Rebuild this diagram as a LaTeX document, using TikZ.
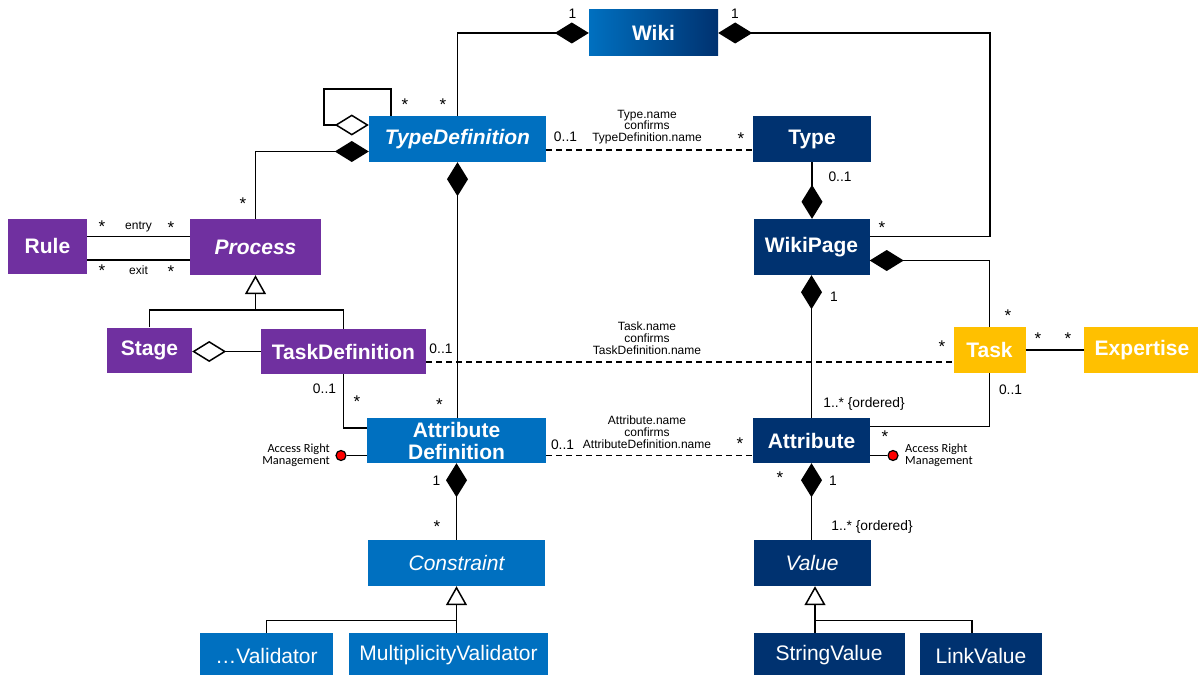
\documentclass[tikz,border=0pt]{standalone}
\usepackage{fontspec}
\setmainfont{Liberation Sans}
\newfontfamily\notefont{Carlito}
\usetikzlibrary{arrows.meta,calc}
\definecolor{umlblue}{RGB}{0,112,192}
\definecolor{umlnavy}{RGB}{0,50,112}
\definecolor{umlpurple}{RGB}{112,48,160}
\definecolor{umlgold}{RGB}{255,192,0}
\begin{document}
\begin{tikzpicture}[x=1pt,y=-1pt,
  cls/.style={inner sep=0pt, text=white, font=\fontsize{21}{22}\selectfont},
  sized/.style 2 args={minimum width=#1, minimum height=#2},
  bluebox/.style={cls, fill=umlblue},
  navybox/.style={cls, fill=umlnavy},
  purplebox/.style={cls, fill=umlpurple},
  goldbox/.style={cls, fill=umlgold},
  conn/.style={line width=1.5pt, line join=miter},
  comp/.style={conn, -{Diamond[length=34pt,width=21pt]}},
  aggr/.style={conn, -{Diamond[open,fill=white,length=34pt,width=21pt]}},
  gen/.style={conn, -{Triangle[open,fill=white,length=19pt,width=21pt]}},
  dep/.style={conn, dash pattern=on 6pt off 4pt},
  mult/.style={inner sep=0pt, font=\fontsize{13.8}{14}\selectfont},
  star/.style={inner sep=0pt, font=\fontsize{17}{17}\selectfont},
  rolelabel/.style={inner sep=0pt, font=\fontsize{12}{12}\selectfont},
  note/.style={inner sep=0pt, align=center, font=\fontsize{12}{12}\selectfont},
  access/.style={inner sep=0pt, font=\notefont\fontsize{12.4}{12}\selectfont},
  port/.style={circle, draw, line width=1.2pt, fill=red, minimum size=10pt, inner sep=0pt}
]
\useasboundingbox (0,0) rectangle (1198,674);

% ---------- classes ----------
\node[cls, sized={129}{46}, left color=umlblue, right color=umlnavy, font=\fontsize{21}{22}\selectfont\bfseries] (wiki) at (653.5,33) {Wiki};
\node[bluebox, sized={177}{46}, font=\fontsize{21}{22}\selectfont\bfseries\itshape] (typedef) at (457.5,139) {TypeDefinition};
\node[navybox, sized={118}{46}, font=\fontsize{21}{22}\selectfont\bfseries] (type) at (812,139) {Type};
\node[navybox, sized={116}{56}, font=\fontsize{21}{22}\selectfont\bfseries] (wikipage) at (811.5,247) {WikiPage};
\node[purplebox, sized={79}{55}, font=\fontsize{21}{22}\selectfont\bfseries] (rule) at (47.5,246) {Rule};
\node[purplebox, sized={131}{56}, font=\fontsize{21}{22}\selectfont\bfseries\itshape] (process) at (255.5,247) {Process};
\node[purplebox, sized={85}{45}, font=\fontsize{21}{22}\selectfont\bfseries] (stage) at (149.5,350) {Stage};
\node[purplebox, sized={165}{45}, font=\fontsize{21}{22}\selectfont\bfseries] (taskdef) at (343.5,351.5) {TaskDefinition};
\node[goldbox, sized={72}{46}, font=\fontsize{21}{22}\selectfont\bfseries] (task) at (989.5,350) {Task};
\node[goldbox, sized={116}{46}, font=\fontsize{21}{22}\selectfont\bfseries] (expertise) at (1142,350) {Expertise};
\node[bluebox, sized={179}{45}, align=center, font=\fontsize{21}{22}\selectfont\bfseries] (attrdef) at (456.5,440.5) {Attribute\\Definition};
\node[navybox, sized={117}{45}, font=\fontsize{21}{22}\selectfont\bfseries] (attribute) at (811.5,440.5) {Attribute};
\node[bluebox, sized={177}{46}, font=\fontsize{21}{22}\selectfont\itshape] (constraint) at (456.5,563) {Constraint};
\node[navybox, sized={117}{46}, font=\fontsize{21}{22}\selectfont\itshape] (value) at (812,563) {Value};
\node[bluebox, sized={133}{45}] (vdots) at (266.5,655.5) {\ldots Validator};
\node[bluebox, sized={199}{45}] (multval) at (448.5,655.5) {MultiplicityValidator};
\node[navybox, sized={151}{45}] (stringval) at (829,655.5) {StringValue};
\node[navybox, sized={122}{45}] (linkval) at (981,655.5) {LinkValue};

% ---------- associations ----------
\draw[comp] (typedef.north) |- (wiki.west);
\coordinate (wkbend) at (990,33);
\draw[comp] ($(wikipage.east)+(0,-10.5)$) -| (wkbend) -- (wiki.east);

% self aggregation of TypeDefinition
\draw[aggr] ($(typedef.north west)+(22,0)$) -- ++(0,-27) -| ($(typedef.west)+(-45,-14)$) -- ($(typedef.west)+(0,-14)$);
\draw[comp] (process.north) |- ($(typedef.west)+(0,12.5)$);

% Rule -- Process (entry / exit)
\coordinate (re1) at ($(rule.east)+(0,-9.5)$);
\coordinate (re2) at ($(rule.east)+(0,14)$);
\draw[conn] (re1) -- (re1 -| process.west);
\draw[conn] (re2) -- (re2 -| process.west);

% Process generalization
\coordinate (pgen) at ($(process.south)+(0,35)$);
\draw[conn] (stage.north) |- (pgen) -| (taskdef.north);
\draw[gen] (pgen) -- (process.south);
\draw[aggr] (taskdef.west) -- (taskdef.west -| stage.east);
\draw[conn] (taskdef.south) |- ($(attrdef.west)+(0,-12.5)$);

% name correspondences
\coordinate (tt1) at ($(typedef.east)+(0,11)$);
\draw[dep] (tt1) -- (tt1 -| type.west);
\coordinate (td1) at ($(taskdef.east)+(0,10.5)$);
\draw[dep] (td1) -- (td1 -| task.west);
\coordinate (aa1) at ($(attrdef.east)+(0,15)$);
\draw[dep] (aa1) -- (aa1 -| attribute.west);

% compositions
\draw[comp] (typedef.south |- attrdef.north) -- (typedef.south);
\draw[comp] (type.south) -- (type.south |- wikipage.north);
\draw[comp] (attribute.north) -- (attribute.north |- wikipage.south);
\draw[comp] (task.north) |- ($(wikipage.east)+(0,13.5)$);
\draw[conn] (task.east) -- (task.east -| expertise.west);
\draw[conn] (task.south) |- ($(attribute.east)+(0,-14)$);
\draw[comp] (constraint.north) -- (attrdef.south);
\draw[comp] (attribute.south |- value.north) -- (attribute.south);

% generalizations of Constraint and Value
\coordinate (cgen) at ($(constraint.south)+(0,34.5)$);
\draw[conn] (vdots.north) |- (cgen) -- (cgen |- multval.north);
\draw[gen] (cgen) -- (constraint.south);
\coordinate (vgen) at ($(value.south)+(3,34.5)$);
\coordinate (lvtop) at ($(linkval.north)+(-9,0)$);
\draw[conn] (vgen |- stringval.north) -- (vgen) -| (lvtop);
\draw[gen] (vgen) -- (vgen |- value.south);

% access right management ports
\node[port] (arl) at (341,455.5) {};
\draw[conn] (arl) -- (arl -| attrdef.west);
\node[access, anchor=east, align=right] (arltext) at (330,455) {Access Right\\Management};
\node[port] (arr) at (893,455.5) {};
\draw[conn] (attribute.east |- arr) -- (arr);
\node[access, anchor=west, align=left] (arrtext) at (905,455) {Access Right\\Management};

% ---------- multiplicities and notes ----------
\node[mult] (m1) at (572.5,14) {1};
\node[mult] (m2) at (735,14) {1};
\node[star] (m3) at (405,105) {*};
\node[star] (m4) at (443,105) {*};
\node[star] (m5) at (243,204) {*};
\node[mult] (m6) at (565.5,137) {0..1};
\node[star] (m7) at (741,139) {*};
\node[note, font=\fontsize{12}{11.5}\selectfont] (n1) at (647,127) {Type.name\\confirms\\TypeDefinition.name};
\node[mult] (m8) at (840,177) {0..1};
\node[star] (m9) at (882,228) {*};
\node[star] (m10) at (102,227) {*};
\node[rolelabel] (entry) at (138.5,227) {entry};
\node[star] (m11) at (171,228) {*};
\node[star] (m12) at (102,271) {*};
\node[rolelabel] (exit) at (138.5,270) {exit};
\node[star] (m13) at (171,272) {*};
\node[mult] (m14) at (834,297) {1};
\node[star] (m15) at (1008,316) {*};
\node[star] (m16) at (1038,339) {*};
\node[star] (m17) at (1068,339) {*};
\node[star] (m18) at (942,347) {*};
\node[mult] (m19) at (441,349) {0..1};
\node[note] (n2) at (647,338.7) {Task.name\\confirms\\TaskDefinition.name};
\node[mult] (m20) at (324.5,389) {0..1};
\node[star] (m21) at (357,402) {*};
\node[star] (m22) at (439.5,405) {*};
\node[mult] (m23) at (1010.5,389.5) {0..1};
\node[mult] (m24) at (864,404) {1..* \{ordered\}};
\node[note] (n3) at (647,432.7) {Attribute.name\\confirms\\AttributeDefinition.name};
\node[mult] (m25) at (562.5,445) {0..1};
\node[star] (m26) at (740,444) {*};
\node[star] (m27) at (885,437) {*};
\node[mult] (m28) at (436.5,481) {1};
\node[star] (m29) at (437,527) {*};
\node[star] (m30) at (780,478) {*};
\node[mult] (m31) at (833,481) {1};
\node[mult] (m32) at (872,527) {1..* \{ordered\}};
\end{tikzpicture}
\end{document}
